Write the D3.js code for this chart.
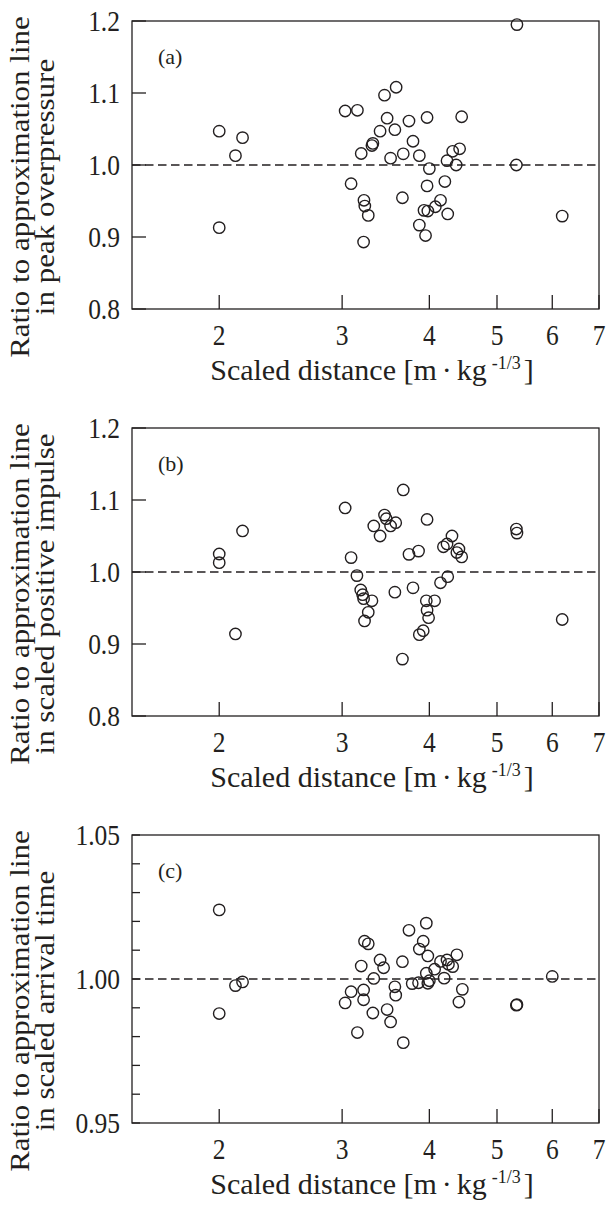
<!DOCTYPE html>
<html>
<head>
<meta charset="utf-8">
<script src="https://cdn.jsdelivr.net/npm/d3@7"></script>
<style>
  body { margin: 0; background: #fff; }
</style>
</head>
<body>
<div id="chart"></div>
<script>
var width = 607;
var height = 1205;

// x ticks (log axis)
var xTicks = [2, 3, 4, 5, 6, 7];
var xTickLabels = ["2", "3", "4", "5", "6", "7"];

// panel (a) peak overpressure
var xA = [2.00, 2.00, 2.11, 2.16,
  3.03, 3.155, 3.09, 3.195, 3.224, 3.233, 3.27, 3.22, 3.31, 3.32, 3.40, 3.45, 3.585, 3.48, 3.57, 3.52,
  3.67, 3.66, 3.74, 3.79, 3.87, 3.97, 4.00, 3.97, 3.93, 3.98, 3.87, 3.95, 4.08, 4.15, 4.21, 4.25,
  4.24, 4.32, 4.37, 4.42, 4.45,
  5.34, 5.33, 6.20];
var yA = [1.047, 0.913, 1.013, 1.038,
  1.075, 1.076, 0.974, 1.016, 0.951, 0.943, 0.930, 0.893, 1.027, 1.030, 1.047, 1.097, 1.108, 1.065, 1.049, 1.0095,
  1.0155, 0.9545, 1.061, 1.033, 1.013, 1.066, 0.995, 0.971, 0.937, 0.936, 0.9165, 0.902, 0.942, 0.951, 0.977, 0.932,
  1.006, 1.019, 1.000, 1.0225, 1.067,
  1.195, 1.000, 0.929];

// panel (b) scaled positive impulse
var xB = [2.00, 2.00, 2.11, 2.16,
  3.03, 3.09, 3.15, 3.19, 3.21, 3.22, 3.31, 3.27, 3.23, 3.33, 3.40, 3.45, 3.47, 3.52, 3.58, 3.67,
  3.57, 3.74, 3.86, 3.79, 3.97, 3.96, 4.07, 3.97, 3.99, 3.92, 3.87, 3.66, 4.15, 4.25, 4.19, 4.24,
  4.31, 4.38, 4.41, 4.45,
  5.33, 5.34, 6.20];
var yB = [1.025, 1.013, 0.914, 1.057,
  1.089, 1.020, 0.995, 0.975, 0.9685, 0.963, 0.960, 0.944, 0.932, 1.064, 1.050, 1.079, 1.074, 1.064, 1.0685, 1.114,
  0.972, 1.0245, 1.029, 0.978, 1.073, 0.960, 0.960, 0.947, 0.9365, 0.9185, 0.913, 0.879, 0.985, 0.9935, 1.035, 1.039,
  1.050, 1.027, 1.032, 1.021,
  1.0596, 1.054, 0.934];

// panel (c) scaled arrival time
var xC = [2.00, 2.00, 2.11, 2.16,
  3.03, 3.09, 3.155, 3.195, 3.22, 3.22, 3.23, 3.27, 3.33, 3.32, 3.40, 3.44, 3.48, 3.52, 3.57, 3.58,
  3.66, 3.67, 3.74, 3.78, 3.86, 3.87, 3.92, 3.96, 3.98, 3.96, 3.98, 4.00, 4.07, 4.15, 4.20, 4.24,
  4.26, 4.32, 4.38, 4.46, 4.41,
  5.33, 5.34, 6.00];
var yC = [1.024, 0.988, 0.9977, 0.999,
  0.9917, 0.9956, 0.9814, 1.0045, 0.9962, 0.9928, 1.0131, 1.0122, 1.0002, 0.9882, 1.0066, 1.0039, 0.9894, 0.9851, 0.9973, 0.9944,
  1.006, 0.9779, 1.0169, 0.9984, 0.9987, 1.0104, 1.0131, 1.0194, 1.008, 1.002, 0.9985, 0.9994, 1.0034, 1.0061, 1.0003, 1.0066,
  1.0051, 1.0043, 1.0084, 0.9964, 0.992,
  0.9909, 0.9911, 1.0009];

var yTicksAB = [0.8, 0.9, 1.0, 1.1, 1.2];
var yTickLabelsAB = ["0.8", "0.9", "1.0", "1.1", "1.2"];
var yTicksC = [0.95, 0.96, 0.97, 0.98, 0.99, 1.00, 1.01, 1.02, 1.03, 1.04, 1.05];
var yLabelTicksC = [0.95, 1.00, 1.05];
var yTickLabelsC = ["0.95", "1.00", "1.05"];

var panels = [
  {tag: "(a)", xs: xA, ys: yA, domain: [0.8, 1.2], ticks: yTicksAB, labelTicks: yTicksAB, labels: yTickLabelsAB,
   line2: "in peak overpressure", tickLen: 14, top: 21},
  {tag: "(b)", xs: xB, ys: yB, domain: [0.8, 1.2], ticks: yTicksAB, labelTicks: yTicksAB, labels: yTickLabelsAB,
   line2: "in scaled positive impulse", tickLen: 14, top: 428},
  {tag: "(c)", xs: xC, ys: yC, domain: [0.95, 1.05], ticks: yTicksC, labelTicks: yLabelTicksC, labels: yTickLabelsC,
   line2: "in scaled arrival time", tickLen: 8, top: 835}
];

var left = 132, right = 599, ph = 288;
var ink = "#231f20";
var serif = "'Liberation Serif', 'DejaVu Serif', serif";

var root = d3.select("#chart").append("svg")
    .attr("width", width)
    .attr("height", height)
    .attr("font-family", serif);

var x = d3.scaleLog().domain([1.5, 7]).range([left, right]);

panels.forEach(function(p){
  var g = root.append("g").attr("fill", ink);
  var bottom = p.top + ph;
  var y = d3.scaleLinear().domain(p.domain).range([bottom, p.top]);

  // frame
  g.append("rect")
      .attr("x", left).attr("y", p.top)
      .attr("width", right - left).attr("height", ph)
      .attr("fill", "none").attr("stroke", ink).attr("stroke-width", 1.3);

  // y ticks, inward
  g.selectAll(".yt").data(p.ticks).enter().append("line")
      .attr("x1", left).attr("x2", left + p.tickLen)
      .attr("y1", function(d){return y(d);}).attr("y2", function(d){return y(d);})
      .attr("stroke", ink).attr("stroke-width", 1.3);

  g.selectAll(".yl").data(p.labelTicks).enter().append("text")
      .attr("transform", function(d){return "translate(" + (left - 12) + "," + (y(d) + 10) + ") scale(0.85,1)";})
      .attr("text-anchor", "end")
      .attr("font-family", serif)
      .attr("font-size", 30)
      .text(function(d, i){return p.labels[i];});

  // x ticks, inward
  g.selectAll(".xt").data(xTicks).enter().append("line")
      .attr("x1", function(d){return x(d);}).attr("x2", function(d){return x(d);})
      .attr("y1", bottom).attr("y2", bottom - 14)
      .attr("stroke", ink).attr("stroke-width", 1.3);

  g.selectAll(".xl").data(xTicks).enter().append("text")
      .attr("transform", function(d){return "translate(" + x(d) + "," + (bottom + 36) + ") scale(0.85,1)";})
      .attr("text-anchor", "middle")
      .attr("font-family", serif)
      .attr("font-size", 30)
      .text(function(d, i){return xTickLabels[i];});

  // reference line at 1
  g.append("line")
      .attr("x1", left).attr("x2", right)
      .attr("y1", y(1)).attr("y2", y(1))
      .attr("stroke", ink).attr("stroke-width", 1.4)
      .attr("stroke-dasharray", "8.5,4.5");

  // points
  g.selectAll("circle").data(p.xs).enter().append("circle")
      .attr("cx", function(d){return x(d);})
      .attr("cy", function(d, i){return y(p.ys[i]);})
      .attr("r", 5.7)
      .attr("fill", "none").attr("stroke", ink).attr("stroke-width", 1.4);

  g.append("text")
      .attr("x", 158).attr("y", p.top + 43)
      .attr("font-family", serif)
      .attr("font-size", 22)
      .text(p.tag);

  // y title, two lines
  var cy = p.top + ph / 2 + 22;
  g.append("text")
      .attr("transform", "translate(29," + cy + ") rotate(-90) scale(1,0.85)")
      .attr("text-anchor", "middle").attr("font-size", 31)
      .attr("font-family", serif)
      .text("Ratio to approximation line");
  g.append("text")
      .attr("transform", "translate(53.5," + cy + ") rotate(-90) scale(1,0.85)")
      .attr("text-anchor", "middle").attr("font-size", 31)
      .attr("font-family", serif)
      .text(p.line2);

  // x title
  var t = g.append("text")
      .attr("x", 372).attr("y", bottom + 71)
      .attr("text-anchor", "middle")
      .attr("font-family", serif)
      .attr("font-size", 30);
  t.append("tspan").text("Scaled distance [m");
  t.append("tspan").attr("dx", 5).text("\u00b7");
  t.append("tspan").attr("dx", 5).text("kg");
  t.append("tspan").attr("dx", 5).attr("dy", -11).attr("font-size", 18).text("-1/3");
  t.append("tspan").attr("dx", 3).attr("dy", 11).text("]");
});
</script>
</body>
</html>
